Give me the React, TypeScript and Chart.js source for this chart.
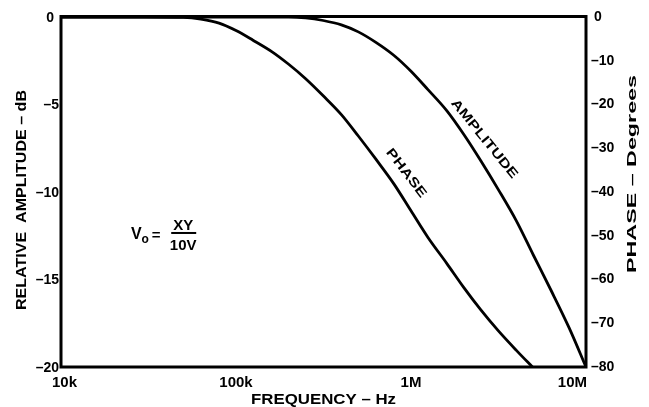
import React, { useEffect, useRef } from "react";
import { Chart, registerables } from "chart.js";
Chart.register(...registerables);

// Phase curve (right axis, degrees)
const phaseFreq = [1e4, 3e4, 5e4, 6.3e4, 8e4, 1e5, 1.25e5, 1.6e5, 2e5, 2.5e5, 3.15e5, 4e5, 5e5, 6.3e5, 8e5, 1e6, 1.25e6, 1.6e6, 2e6, 2.5e6, 3.15e6, 4e6, 5e6];
const phaseDeg = [0, 0, -0.1, -0.5, -1.4, -3.1, -5.3, -7.9, -10.8, -14.1, -18.0, -22.3, -27.2, -32.5, -38.2, -44.3, -50.4, -56.3, -61.8, -66.9, -71.7, -76.2, -80.2];

// Amplitude curve (left axis, dB)
const ampFreq = [1e4, 1e5, 2e5, 2.5e5, 3.15e5, 4e5, 5e5, 6.3e5, 8e5, 1e6, 1.25e6, 1.6e6, 2e6, 2.5e6, 3.15e6, 4e6, 5e6, 6.3e6, 8e6, 1e7];
const ampDb = [0, 0, 0, -0.05, -0.2, -0.45, -0.85, -1.45, -2.2, -3.1, -4.15, -5.35, -6.7, -8.2, -9.85, -11.65, -13.6, -15.6, -17.75, -20];

const freqTicks = [1e4, 1e5, 1e6, 1e7];
const freqTickLabels = ["10k", "100k", "1M", "10M"];
const dbTicks = [0, -5, -10, -15, -20];
const degTicks = [0, -10, -20, -30, -40, -50, -60, -70, -80];

const FONT = '"Liberation Sans", Arial, Helvetica, sans-serif';

function fitText(ctx: CanvasRenderingContext2D, text: string, x: number, y: number, angle: number, size: number, len: number) {
  ctx.save();
  ctx.translate(x, y);
  ctx.rotate(angle);
  ctx.font = `bold ${size}px ${FONT}`;
  const w = ctx.measureText(text).width;
  ctx.scale(len / w, 1);
  ctx.textAlign = "center";
  ctx.textBaseline = "middle";
  ctx.fillText(text, 0, 0);
  ctx.restore();
}

const decorPlugin = {
  id: "decor",
  afterDatasetsDraw(chart: any) {
    const ctx: CanvasRenderingContext2D = chart.ctx;
    const { left, right, top, bottom } = chart.chartArea;
    const xs = chart.scales.x;
    const ys = chart.scales.y;
    const y1 = chart.scales.y1;
    ctx.save();
    ctx.fillStyle = "#000";
    ctx.strokeStyle = "#000";
    // frame
    ctx.lineWidth = 3;
    ctx.strokeRect(left, top - 0.5, right - left, bottom - top + 0.5);

    // left tick labels
    ctx.font = `bold 14px ${FONT}`;
    ctx.textBaseline = "middle";
    ctx.textAlign = "right";
    dbTicks.forEach((v) => {
      const y = ys.getPixelForValue(v);
      const t = v === 0 ? "0" : "–" + Math.abs(v);
      ctx.fillText(t, v === 0 ? left - 7 : left - 2, y + 1);
    });
    // right tick labels
    ctx.textAlign = "left";
    degTicks.forEach((v) => {
      const y = y1.getPixelForValue(v);
      const t = v === 0 ? "0" : "–" + Math.abs(v);
      ctx.fillText(t, v === 0 ? right + 8 : right + 5, y);
    });
    // bottom tick labels
    ctx.font = `bold 15px ${FONT}`;
    ctx.textAlign = "center";
    freqTicks.forEach((v, i) => {
      const t = freqTickLabels[i];
      const w = ctx.measureText(t).width;
      let x = xs.getPixelForValue(v);
      x = Math.max(left - 9 + w / 2, Math.min(right - w / 2 + 1, x));
      ctx.fillText(t, x, bottom + 16);
    });

    // axis titles
    fitText(ctx, "RELATIVE  AMPLITUDE – dB", 22, (top + bottom) / 2 + 8, -Math.PI / 2, 14, 220);
    fitText(ctx, "PHASE – Degrees", right + 46, (top + bottom) / 2 - 18, -Math.PI / 2, 13, 198);
    fitText(ctx, "FREQUENCY – Hz", (left + right) / 2, bottom + 33, 0, 15, 145);

    // curve labels
    fitText(ctx, "AMPLITUDE", xs.getPixelForValue(2.55e6) + 2, ys.getPixelForValue(-6.97), (51 * Math.PI) / 180, 13, 98);
    fitText(ctx, "PHASE", xs.getPixelForValue(9.25e5) + 1, y1.getPixelForValue(-35.7), (52.5 * Math.PI) / 180, 13, 58);

    // formula
    const fx = xs.getPixelForValue(3.5e4);
    const fy = ys.getPixelForValue(-12.57);
    ctx.textAlign = "center";
    ctx.textBaseline = "alphabetic";
    ctx.font = `bold 16px ${FONT}`;
    ctx.fillText("V", fx - 20, fy + 2);
    ctx.font = `bold 12px ${FONT}`;
    ctx.fillText("o", fx - 11, fy + 6);
    ctx.font = `bold 15px ${FONT}`;
    ctx.fillText("=", fx + 0, fy + 3);
    ctx.fillText("XY", fx + 27, fy - 7);
    ctx.fillText("10V", fx + 27, fy + 13);
    ctx.fillRect(fx + 15, fy - 5, 25, 2);
    ctx.restore();
  },
};

export default function App() {
  const ref = useRef<HTMLCanvasElement>(null);
  useEffect(() => {
    if (!ref.current) return;
    const chart = new Chart(ref.current, {
      type: "line",
      data: {
        datasets: [
          {
            label: "Amplitude",
            data: ampFreq.map((f, i) => ({ x: f, y: ampDb[i] })),
            yAxisID: "y",
            borderColor: "#000",
            borderWidth: 2.8,
            pointRadius: 0,
            cubicInterpolationMode: "monotone",
            fill: false,
          },
          {
            label: "Phase",
            data: phaseFreq.map((f, i) => ({ x: f, y: phaseDeg[i] })),
            yAxisID: "y1",
            borderColor: "#000",
            borderWidth: 2.8,
            pointRadius: 0,
            cubicInterpolationMode: "monotone",
            fill: false,
          },
        ],
      },
      options: {
        animation: false,
        responsive: false,
        events: [],
        layout: { padding: { left: 61, top: 17, right: 63, bottom: 40 } },
        plugins: { legend: { display: false }, tooltip: { enabled: false } },
        scales: {
          x: { type: "logarithmic", min: 1e4, max: 1e7, display: false },
          y: { type: "linear", min: -20, max: 0, display: false },
          y1: { type: "linear", min: -80, max: 0, display: false, position: "right" },
        },
      },
      plugins: [decorPlugin],
    } as any);
    return () => chart.destroy();
  }, []);
  return (
    <div style={{ position: "fixed", left: 0, top: 0, width: 649, height: 407, background: "#fff" }}>
      <canvas ref={ref} width={649} height={407} style={{ display: "block" }} />
    </div>
  );
}
